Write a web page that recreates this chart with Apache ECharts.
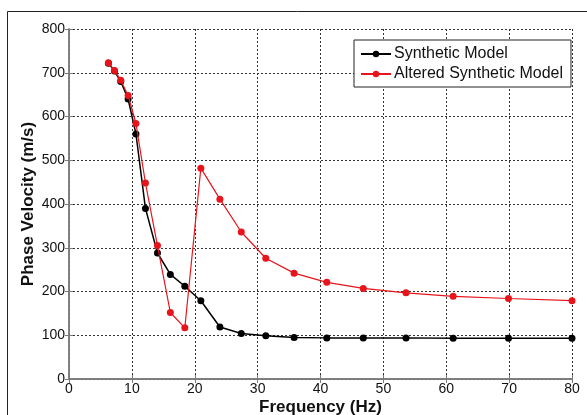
<!DOCTYPE html>
<html>
<head>
<meta charset="utf-8">
<script src="https://cdn.jsdelivr.net/npm/echarts@6/dist/echarts.min.js"></script>
<style>
  html, body { margin: 0; padding: 0; background: #fff; }
  #chart { width: 587px; height: 415px; }
</style>
</head>
<body>
<div id="chart"></div>
<script>
// Frequencies (Hz) of each dispersion sample
const frequency = [6.27, 7.23, 8.23, 9.4, 10.65, 12.16, 14.07, 16.12, 18.42, 20.97, 24.0, 27.4, 31.3, 35.8, 41.0, 46.8, 53.6, 61.1, 69.9, 80.0];
// Phase velocity (m/s) for the synthetic model
const syntheticVelocity = [722, 704, 680, 640, 560, 390, 288, 239, 212, 179, 119, 104, 99, 95, 94, 94, 94, 93, 93, 93];
// Phase velocity (m/s) for the altered synthetic model
const alteredVelocity = [723, 705, 683, 648, 584, 448, 305, 152, 117, 482, 411, 336, 276, 242, 221, 207, 197, 189, 184, 179];

const xTicks = [0, 10, 20, 30, 40, 50, 60, 70, 80];
const yTicks = [0, 100, 200, 300, 400, 500, 600, 700, 800];

const pairs = (xs, ys) => xs.map((x, i) => [x, ys[i]]);

const font = '"Liberation Sans", Arial, sans-serif';
const axisGray = '#7a7a7a';
const gridLine = { show: true, lineStyle: { color: '#333', type: [2, 2], width: 1 } };

const chart = echarts.init(document.getElementById('chart'), null, { renderer: 'canvas' });

chart.setOption({
  backgroundColor: '#fff',
  animation: false,
  graphic: [{
    type: 'rect',
    shape: { x: 7.5, y: 11.5, width: 700, height: 500 },
    style: { fill: 'none', stroke: '#222', lineWidth: 1 },
    silent: true,
    z: -1
  }],
  grid: { left: 69, top: 29, right: 15, bottom: 36, containLabel: false, outerBoundsMode: 'none' },
  legend: {
    orient: 'vertical',
    left: 354,
    top: 40,
    backgroundColor: '#fff',
    borderColor: '#222',
    borderWidth: 1,
    padding: [6, 8, 5, 6],
    itemWidth: 30,
    itemHeight: 8,
    itemGap: 4,
    textStyle: { fontFamily: font, fontSize: 16, color: '#111', padding: [0, 0, 0, -2] },
    data: ['Synthetic Model', 'Altered Synthetic Model']
  },
  xAxis: [{
    type: 'value',
    min: xTicks[0],
    max: xTicks[xTicks.length - 1],
    interval: 10,
    name: 'Frequency (Hz)',
    nameLocation: 'middle',
    nameGap: 20,
    nameMoveOverlap: false,
    nameTextStyle: { fontFamily: font, fontSize: 17, fontWeight: 'bold', color: '#111' },
    axisLine: { show: true, lineStyle: { color: axisGray, width: 1.5 } },
    axisTick: { show: true, inside: true, length: 4, lineStyle: { color: axisGray } },
    axisLabel: { fontFamily: font, fontSize: 14, color: '#111', margin: 3 },
    splitLine: gridLine
  }, {
    type: 'value',
    position: 'top',
    min: xTicks[0],
    max: xTicks[xTicks.length - 1],
    interval: 10,
    axisLine: { show: true, lineStyle: { color: axisGray, width: 1.5 } },
    axisTick: { show: true, inside: true, length: 4, lineStyle: { color: axisGray } },
    axisLabel: { show: false },
    splitLine: { show: false }
  }],
  yAxis: [{
    type: 'value',
    min: yTicks[0],
    max: yTicks[yTicks.length - 1],
    interval: 100,
    name: 'Phase Velocity (m/s)',
    nameLocation: 'middle',
    nameGap: 32,
    nameMoveOverlap: false,
    nameTextStyle: { fontFamily: font, fontSize: 17, fontWeight: 'bold', color: '#111' },
    axisLine: { show: true, lineStyle: { color: axisGray, width: 1.5 } },
    axisTick: { show: true, inside: true, length: 4, lineStyle: { color: axisGray } },
    axisLabel: { fontFamily: font, fontSize: 14, color: '#111', margin: 4 },
    splitLine: gridLine
  }, {
    type: 'value',
    position: 'right',
    min: yTicks[0],
    max: yTicks[yTicks.length - 1],
    interval: 100,
    axisLine: { show: true, lineStyle: { color: axisGray, width: 1.5 } },
    axisTick: { show: true, inside: true, length: 4, lineStyle: { color: axisGray } },
    axisLabel: { show: false },
    splitLine: { show: false }
  }],
  series: [{
    name: 'Synthetic Model',
    type: 'line',
    data: pairs(frequency, syntheticVelocity),
    symbol: 'circle',
    symbolSize: 7,
    lineStyle: { color: '#000', width: 1.5 },
    itemStyle: { color: '#000' },
    z: 2
  }, {
    name: 'Altered Synthetic Model',
    type: 'line',
    data: pairs(frequency, alteredVelocity),
    symbol: 'circle',
    symbolSize: 7,
    lineStyle: { color: '#e8141b', width: 1.2 },
    itemStyle: { color: '#e8141b' },
    z: 3
  }]
});
</script>
</body>
</html>
